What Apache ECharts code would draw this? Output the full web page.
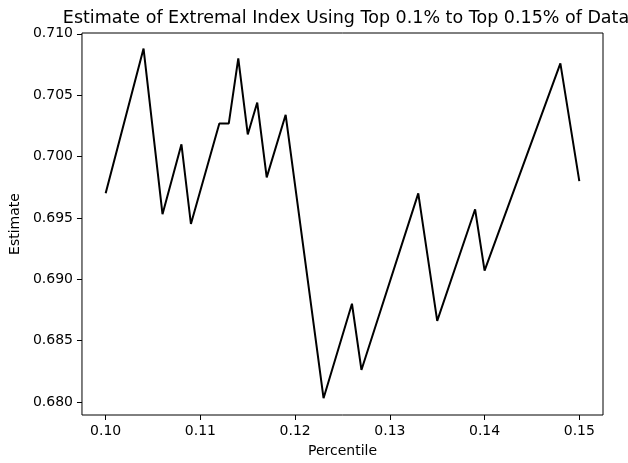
<!DOCTYPE html>
<html>
<head>
<meta charset="utf-8">
<script src="https://cdn.jsdelivr.net/npm/echarts@6/dist/echarts.min.js"></script>
<style>
html,body{margin:0;padding:0;background:#fff;}
#chart{width:628px;height:463px;}
</style>
</head>
<body>
<div id="chart"></div>
<script>
const percentiles = [0.100, 0.104, 0.106, 0.108, 0.109, 0.112, 0.113, 0.114, 0.115, 0.116, 0.117, 0.119, 0.123, 0.126, 0.127, 0.133, 0.135, 0.139, 0.140, 0.148, 0.150];
const estimates = [0.6970, 0.7088, 0.6953, 0.7010, 0.6945, 0.7027, 0.7027, 0.7080, 0.7018, 0.7044, 0.6983, 0.7034, 0.6803, 0.6880, 0.6826, 0.6970, 0.6866, 0.6957, 0.6907, 0.7076, 0.6980];
const xTicks = [0.10, 0.11, 0.12, 0.13, 0.14, 0.15];
const yTicks = [0.680, 0.685, 0.690, 0.695, 0.700, 0.705, 0.710];

const font = 'DejaVu Sans';
const chart = echarts.init(document.getElementById('chart'), null, {renderer: 'canvas'});
chart.setOption({
  animation: false,
  backgroundColor: '#fff',
  title: {
    text: 'Estimate of Extremal Index Using Top 0.1% to Top 0.15% of Data',
    left: 341,
    textAlign: 'center',
    top: 4,
    textStyle: {fontFamily: font, fontSize: 17.5, fontWeight: 'normal', color: '#000'}
  },
  grid: {
    left: 81, right: 25, top: 33, bottom: 43,
    show: true, borderColor: '#000', borderWidth: 1, backgroundColor: '#fff'
  },
  xAxis: {
    type: 'value',
    min: 0.0975, max: 0.1525,
    name: 'Percentile',
    nameLocation: 'middle',
    nameGap: 29,
    nameTextStyle: {fontFamily: font, fontSize: 14, color: '#000'},
    axisLine: {show: false},
    splitLine: {show: false},
    axisTick: {show: true, inside: false, length: 5, lineStyle: {color: '#000'}, customValues: xTicks},
    axisLabel: {
      fontFamily: font, fontSize: 14, color: '#000', margin: 9,
      customValues: xTicks,
      formatter: v => v.toFixed(2)
    }
  },
  yAxis: {
    type: 'value',
    min: 0.67893, max: 0.71007,
    name: 'Estimate',
    nameLocation: 'middle',
    nameGap: 58,
    nameTextStyle: {fontFamily: font, fontSize: 14, color: '#000'},
    axisLine: {show: false},
    splitLine: {show: false},
    axisTick: {show: true, inside: false, length: 5, lineStyle: {color: '#000'}, customValues: yTicks},
    axisLabel: {
      fontFamily: font, fontSize: 14, color: '#000', margin: 9,
      customValues: yTicks,
      formatter: v => v.toFixed(3)
    }
  },
  series: [{
    type: 'line',
    data: percentiles.map((p, i) => [p, estimates[i]]),
    showSymbol: false,
    lineStyle: {color: '#000', width: 2},
    clip: false
  }]
});
</script>
</body>
</html>
